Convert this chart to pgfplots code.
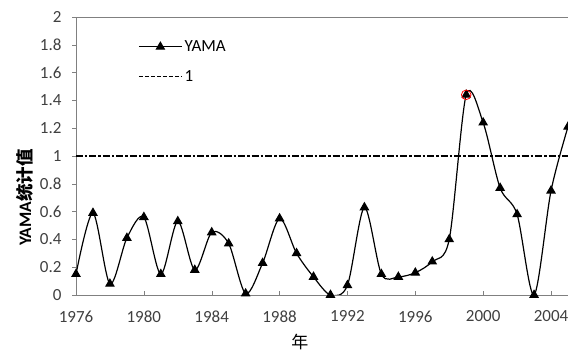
\documentclass[border=0pt]{standalone}
\usepackage{fontspec}
\setmainfont{Carlito}
\newfontfamily\cjk{Noto Sans CJK SC}
\usepackage{pgfplots}
\pgfplotsset{compat=1.18}
\usetikzlibrary{calc}
\definecolor{tickgray}{RGB}{64,64,64}
\begin{document}
\begin{tikzpicture}
\begin{axis}[
  scale only axis, width=492pt, height=278pt,
  xmin=1976, xmax=2005, ymin=0, ymax=2,
  xtick={1976,1980,...,2004},
  ytick={0,0.2,...,2.01},
  x tick label style={/pgf/number format/1000 sep={}, yshift=-12pt},
  y tick label style={/pgf/number format/fixed, /pgf/number format/precision=1, xshift=-7pt},
  /pgf/number format/assume math mode=true,
  tick label style={font=\fontsize{17}{19}\selectfont, text=tickgray},
  xtick align=inside, ytick align=outside,
  tick style={draw=gray, thin},
  major tick length=4pt,
  axis line style={draw=gray, thin},
  xtick pos=bottom, ytick pos=left,
  xlabel={\cjk 年}, xlabel style={font=\fontsize{17}{19}\selectfont, at={(ticklabel cs:0.455)}, yshift=-5pt},
  ylabel={\bfseries YAMA{\cjk 统计值}}, ylabel style={font=\fontsize{17.5}{19}\selectfont, at={(ticklabel cs:0.35)}, yshift=0pt},
  legend style={at={(0.12,0.93)}, anchor=north west, draw=none, fill=none, font=\fontsize{17}{19}\selectfont, row sep=13pt, cells={anchor=west}},
  legend cell align=left,
]
\coordinate (sw) at (rel axis cs:0,0);
\coordinate (ne) at (rel axis cs:1,1);
\addplot[black, line width=1.2pt, smooth, tension=0.5, mark=triangle*, mark size=4.5pt, mark options={solid},
  legend image code/.code={\draw[black, line width=1.2pt, mark=triangle*, mark size=4.5pt, mark repeat=2, mark phase=2] plot coordinates {(0pt,0pt) (21.5pt,0pt) (43pt,0pt)};}] coordinates {
(1976,0.15) (1977,0.59) (1978,0.08) (1979,0.41) (1980,0.56) (1981,0.15)
(1982,0.53) (1983,0.18) (1984,0.45) (1985,0.37) (1986,0.01) (1987,0.23)
(1988,0.55) (1989,0.30) (1990,0.13) (1991,0.0) (1992,0.07) (1993,0.63)
(1994,0.15) (1995,0.13) (1996,0.16) (1997,0.24) (1998,0.40) (1999,1.44)
(2000,1.24) (2001,0.77) (2002,0.58) (2003,0.0) (2004,0.75) (2005,1.21)};
\addlegendentry{YAMA}
\addplot[black, line width=1.3pt, dash pattern=on 7pt off 2pt on 2.5pt off 2pt, legend image code/.code={\draw[black, line width=1.3pt, dash pattern=on 4pt off 2pt] (0pt,0pt) -- (43pt,0pt);}] coordinates {(1976,1) (2005,1)};
\addlegendentry{1}
\addplot[red, thick, only marks, mark=o, mark size=4.8pt, forget plot] coordinates {(1999,1.44)};
\end{axis}
\pgfresetboundingbox
\path ($(sw)+(-76pt,-55pt)$) rectangle ($(ne)+(0pt,17pt)$);
\end{tikzpicture}
\end{document}
